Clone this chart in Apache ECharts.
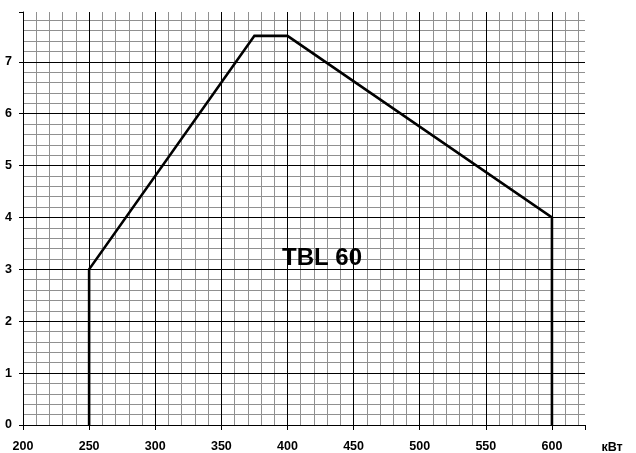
<!DOCTYPE html>
<html>
<head>
<meta charset="utf-8">
<script src="https://cdn.jsdelivr.net/npm/echarts@6/dist/echarts.min.js"></script>
<style>html,body{margin:0;padding:0;background:#fff;}#c{width:636px;height:453px;}</style>
</head>
<body>
<div id="c"></div>
<script>
var xLabels = [200, 250, 300, 350, 400, 450, 500, 550, 600];
var yLabels = [0, 1, 2, 3, 4, 5, 6, 7];
var powerKW = [250, 250, 375, 400, 600, 600];
var pressure = [0, 3, 7.5, 7.5, 4, 0];
var unitLabel = 'кВт';
var modelLabel = 'TBL 60';

var chart = echarts.init(document.getElementById('c'), null, {renderer: 'canvas'});
var FONT = 'Liberation Sans, Arial, sans-serif';
var XMIN = 200, XMAX = 625, YMIN = 0, YMAX = 7.96;
var data = powerKW.map(function (x, i) { return [x, pressure[i]]; });

chart.setOption({
  animation: false,
  backgroundColor: '#fff',
  grid: {left: 23, right: 51, top: 12, bottom: 26},
  xAxis: [
    {
      type: 'value', min: XMIN, max: XMAX, interval: 50, z: 3,
      axisLine: {show: true, onZero: false, lineStyle: {color: '#000', width: 1}},
      axisTick: {show: true, length: 5, lineStyle: {color: '#000'}},
      axisLabel: {
        margin: 15, color: '#000', fontWeight: 'bold', fontSize: 12.5, fontFamily: FONT,
        formatter: function (v) { return xLabels.indexOf(v) >= 0 ? String(v) : ''; }
      },
      splitLine: {show: true, showMinLine: false, showMaxLine: false, lineStyle: {color: '#000', width: 1}}
    },
    {
      type: 'value', min: XMIN, max: XMAX, interval: 10, position: 'top', z: 1,
      axisLine: {show: false}, axisTick: {show: false}, axisLabel: {show: false},
      splitLine: {show: true, showMinLine: false, showMaxLine: false, lineStyle: {color: '#909090', width: 1}}
    }
  ],
  yAxis: [
    {
      type: 'value', min: YMIN, max: YMAX, interval: 1, z: 3,
      axisLine: {show: true, onZero: false, lineStyle: {color: '#000', width: 1}},
      axisTick: {show: true, length: 4, lineStyle: {color: '#000'}},
      axisLabel: {
        margin: 11, color: '#000', fontWeight: 'bold', fontSize: 12.5, fontFamily: FONT,
        formatter: function (v) { return yLabels.indexOf(v) >= 0 ? String(v) : ''; }
      },
      splitLine: {show: true, showMinLine: false, showMaxLine: false, lineStyle: {color: '#000', width: 1}}
    },
    {
      type: 'value', min: YMIN, max: YMAX, interval: 0.2, position: 'right', z: 1,
      axisLine: {show: false}, axisTick: {show: false}, axisLabel: {show: false},
      splitLine: {show: true, showMinLine: false, showMaxLine: false, lineStyle: {color: '#909090', width: 1}}
    }
  ],
  series: [{
    type: 'line', xAxisIndex: 0, yAxisIndex: 0, data: data, z: 10,
    symbol: 'none', lineStyle: {color: '#000', width: 2.6, join: 'miter'}
  }],
  graphic: [
    {type: 'text', x: 322, y: 258, z: 100, style: {text: modelLabel, fill: '#000', font: 'bold 24px ' + FONT, textAlign: 'center', textVerticalAlign: 'middle'}},
    {type: 'text', x: 612, y: 448, z: 100, style: {text: unitLabel, fill: '#000', font: 'bold 12.5px ' + FONT, textAlign: 'center', textVerticalAlign: 'middle'}}
  ]
});
</script>
</body>
</html>
